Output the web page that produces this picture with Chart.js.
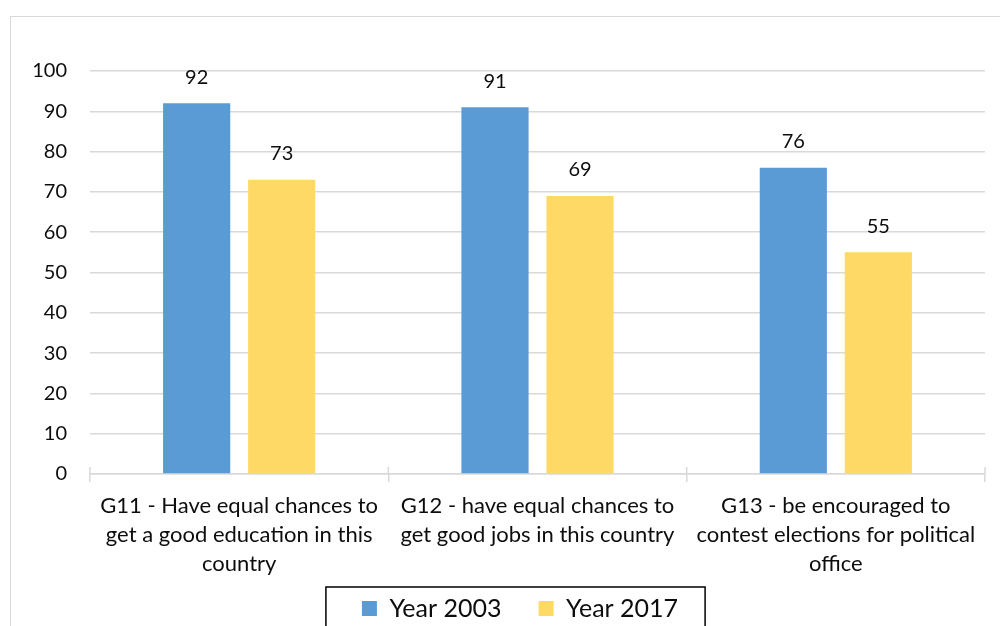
<!DOCTYPE html>
<html>
<head>
<meta charset="utf-8">
<script src="https://cdn.jsdelivr.net/npm/chart.js@4/dist/chart.umd.min.js"></script>
<style>
    html, body { margin: 0; padding: 0; overflow: hidden; background: #fff; }
    .moldura {
        position: absolute; left: 10px; top: 16px; width: 1100px; height: 700px;
        border-left: 1.5px solid #d9d9d9; border-top: 1.5px solid #d9d9d9;
    }
    .grafico { position: absolute; left: 0; top: 0; width: 1010px; height: 631px; }
</style>
</head>
<body>
<div class="moldura"></div>
<div class="grafico"><canvas id="grafico"></canvas></div>
<script>
// Categorias (rótulos em várias linhas)
const categorias = [
    ["G11 - Have equal chances to", "get a good education in this", "country"],
    ["G12 - have equal chances to", "get good jobs in this country"],
    ["G13 - be encouraged to", "contest elections for political", "office"]
];
const series = ["Year 2003", "Year 2017"];
const valores2003 = [92, 91, 76];
const valores2017 = [73, 69, 55];
const cores = ["#5B9BD5", "#FFD966"];

const fonte = "Lato, 'Open Sans', sans-serif";
const corTexto = "#0d0d0d";
const corGrade = "#d9d9d9";

// Rótulos de valor acima das barras
const rotulosValores = {
    id: 'rotulosValores',
    afterDatasetsDraw(chart) {
        const ctx = chart.ctx;
        ctx.save();
        ctx.font = `20px ${fonte}`;
        ctx.fillStyle = corTexto;
        ctx.textAlign = 'center';
        ctx.textBaseline = 'middle';
        chart.data.datasets.forEach((ds, i) => {
            chart.getDatasetMeta(i).data.forEach((barra, j) => {
                ctx.fillText(String(ds.data[j]), barra.x, barra.y - 26);
            });
        });
        ctx.restore();
    }
};

// Marcas do eixo X cruzando a linha do zero (parte de cima)
const marcasEixo = {
    id: 'marcasEixo',
    afterDraw(chart) {
        const x = chart.scales.x;
        const y0 = chart.scales.y.getPixelForValue(0);
        const ctx = chart.ctx;
        ctx.save();
        ctx.strokeStyle = corGrade;
        ctx.lineWidth = 1.5;
        for (let i = 0; i <= categorias.length; i++) {
            const px = x.getPixelForValue(i - 0.5);
            ctx.beginPath();
            ctx.moveTo(px, y0 - 7);
            ctx.lineTo(px, y0);
            ctx.stroke();
        }
        ctx.restore();
    }
};

// Moldura preta em volta da legenda
const quadroLegenda = {
    id: 'quadroLegenda',
    afterDraw(chart) {
        const caixas = chart.legend.legendHitBoxes;
        if (!caixas || !caixas.length) return;
        const primeira = caixas[0];
        const ultima = caixas[caixas.length - 1];
        const esq = primeira.left - 36;
        const dir = ultima.left + ultima.width + 27;
        const ctx = chart.ctx;
        ctx.save();
        ctx.strokeStyle = '#000';
        ctx.lineWidth = 1.5;
        ctx.strokeRect(esq, primeira.top - 9, dir - esq, 80);
        ctx.restore();
    }
};

// Espaço extra depois do primeiro item da legenda
function gerarLegenda(chart) {
    const itens = Chart.defaults.plugins.legend.labels.generateLabels(chart);
    itens.forEach((item, i) => {
        if (i < itens.length - 1) item.text += '   ';
    });
    return itens;
}

document.addEventListener('DOMContentLoaded', () => {
    const ctx = document.getElementById('grafico').getContext('2d');
    new Chart(ctx, {
        type: 'bar',
        data: {
            labels: categorias,
            datasets: [
                { label: series[0], data: valores2003, backgroundColor: cores[0] },
                { label: series[1], data: valores2017, backgroundColor: cores[1] }
            ]
        },
        options: {
            responsive: true,
            maintainAspectRatio: false,
            animation: false,
            categoryPercentage: 0.57,
            barPercentage: 0.79,
            layout: { padding: { left: 30, right: 0, top: 71, bottom: 0 } },
            scales: {
                x: {
                    afterFit: (escala) => { escala.height = 104; },
                    grid: {
                        offset: true,
                        drawOnChartArea: false,
                        drawTicks: true,
                        tickLength: 8,
                        color: corGrade,
                        lineWidth: 1.5
                    },
                    border: { color: corGrade, width: 1.5 },
                    ticks: {
                        autoSkip: false,
                        maxRotation: 0,
                        padding: 10,
                        color: corTexto,
                        font: { family: fonte, size: 22, lineHeight: 1.3 }
                    }
                },
                y: {
                    min: 0,
                    max: 100,
                    afterFit: (escala) => { escala.width = 60; },
                    grid: { color: corGrade, lineWidth: 1.5, drawTicks: false },
                    border: { display: false },
                    ticks: {
                        stepSize: 10,
                        padding: 23,
                        color: corTexto,
                        font: { family: fonte, size: 20 }
                    }
                },
                // eixo vazio à direita, só reserva espaço
                lateral: {
                    type: 'linear',
                    position: 'right',
                    grid: { display: false },
                    border: { display: false },
                    ticks: { display: false },
                    afterFit: (escala) => { escala.width = 25; }
                }
            },
            plugins: {
                legend: {
                    position: 'bottom',
                    labels: {
                        boxWidth: 15,
                        boxHeight: 15,
                        padding: 18,
                        color: corTexto,
                        font: { family: fonte, size: 25 },
                        generateLabels: gerarLegenda
                    }
                },
                tooltip: { enabled: false }
            }
        },
        plugins: [rotulosValores, marcasEixo, quadroLegenda]
    });
});
</script>
</body>
</html>
